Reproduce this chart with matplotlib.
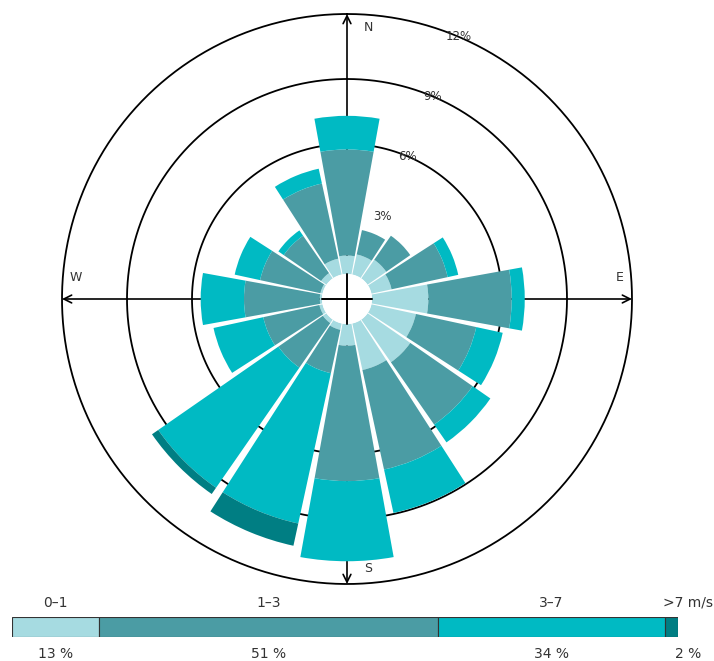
import numpy as np
import matplotlib.pyplot as plt

directions = ['N', 'NNE', 'NE', 'ENE', 'E', 'ESE', 'SE', 'SSE',
              'S', 'SSW', 'SW', 'WSW', 'W', 'WNW', 'NW', 'NNW']

# frequency (%) per direction and speed class
speed_0_1 = [0.85, 0.95, 1.05, 0.95, 2.6, 2.1, 2.4, 2.2,
             1.0, 0.3, 0.2, 0.15, 0.1, 0.1, 0.3, 0.75]
speed_1_3 = [4.9, 1.15, 1.35, 2.65, 3.85, 2.85, 3.5, 4.7,
             6.25, 2.05, 2.5, 2.65, 3.5, 2.85, 2.1, 3.55]
speed_3_7 = [1.55, 0.0, 0.0, 0.5, 0.6, 1.25, 1.0, 2.05,
             3.7, 7.1, 6.75, 2.35, 2.0, 1.2, 0.3, 0.7]
speed_7_up = [0.0, 0.0, 0.0, 0.0, 0.0, 0.0, 0.0, 0.0,
              0.0, 1.05, 0.35, 0.0, 0.0, 0.0, 0.0, 0.0]

class_labels = ['0–1', '1–3', '3–7', '>7 m/s']
class_shares = [13, 51, 34, 2]
rings = [3, 6, 9, 12]

colors = ['#a6dbe1', '#4b9ca4', '#00bac3', '#007e83']
text_color = '#333333'

r_max = 12
r_origin = -1.154
hole = -r_origin / (r_max - r_origin)  # hole radius in cross-axes units

fig = plt.figure(figsize=(7.14, 6.61), dpi=100)
rose_rect = [62 / 714, 77 / 661, 570 / 714, 570 / 661]

# --- compass cross underneath the rose ---
bg = fig.add_axes(rose_rect, zorder=0)
bg.set_xlim(-1, 1)
bg.set_ylim(-1, 1)
bg.axis('off')
for tip in [(0, 1), (1, 0), (0, -1), (-1, 0)]:
    bg.annotate('', xy=tip, xytext=(0, 0), annotation_clip=False,
                arrowprops=dict(arrowstyle='->', color='black', lw=1.2,
                                shrinkA=0, shrinkB=0, mutation_scale=14))

off = 0.074
for label, (x, y) in zip(['N', 'E', 'S', 'W'],
                         [(off, 0.954), (0.958, off),
                          (off, -0.944), (-0.95, off)]):
    bg.text(x, y, label, ha='center', va='center', fontsize=9,
            color=text_color)

# --- wind rose ---
ax = fig.add_axes(rose_rect, projection='polar', zorder=1)
ax.set_theta_zero_location('N')
ax.set_theta_direction(-1)
ax.set_ylim(0, r_max)
ax.set_rorigin(r_origin)
ax.set_xticks([])
ax.set_yticks([])
ax.grid(False)
# polar axes turns the inner spine back on when drawing, so blank its colour
for sp in ax.spines.values():
    sp.set_edgecolor('none')
    sp.set_linewidth(0)
ax.patch.set_alpha(0)

n = len(directions)
theta = np.deg2rad(np.arange(n) * 360 / n)
width = np.deg2rad(360 / n - 2.0)

bottom = np.zeros(n)
for values, c in zip([speed_0_1, speed_1_3, speed_3_7, speed_7_up], colors):
    values = np.array(values)
    ax.bar(theta, values, width=width, bottom=bottom.copy(), color=c,
           edgecolor='none', zorder=3)
    bottom = bottom + values

# rings (3 % ring only labelled)
full = np.linspace(0, 2 * np.pi, 400)
for r in rings[1:]:
    ax.plot(full, np.full_like(full, r), color='black', lw=1.3,
            zorder=1, clip_on=False)
for r in rings:
    ax.text(np.deg2rad(23), r, f'{r}%', ha='center', va='center',
            fontsize=8.5, color=text_color, zorder=4)

# short cross inside the empty centre, on top of the rose
top = fig.add_axes(rose_rect, zorder=2)
top.set_xlim(-1, 1)
top.set_ylim(-1, 1)
top.axis('off')
top.plot([-hole, hole], [0, 0], color='black', lw=1.2)
top.plot([0, 0], [-hole, hole], color='black', lw=1.2)

# --- speed class legend bar ---
lax = fig.add_axes([12 / 714, 24 / 661, 666 / 714, 20 / 661])
left = 0
centers = []
for share, c in zip(class_shares, colors):
    lax.barh(0, share, left=left, height=1, color=c,
             edgecolor='#333333', linewidth=0.8)
    centers.append(left + share / 2)
    left += share
centers[-1] += 2.5
lax.set_xlim(0, 100)
lax.set_ylim(-0.5, 0.5)
lax.axis('off')

trans = lax.get_xaxis_transform()
for x, lab, share in zip(centers, class_labels, class_shares):
    lax.text(x, 1.7, lab, transform=trans, ha='center', va='center',
             fontsize=10, color=text_color)
    lax.text(x, -0.85, f'{share} %', transform=trans, ha='center',
             va='center', fontsize=10, color=text_color)

fig.savefig('out.png', dpi=100)
